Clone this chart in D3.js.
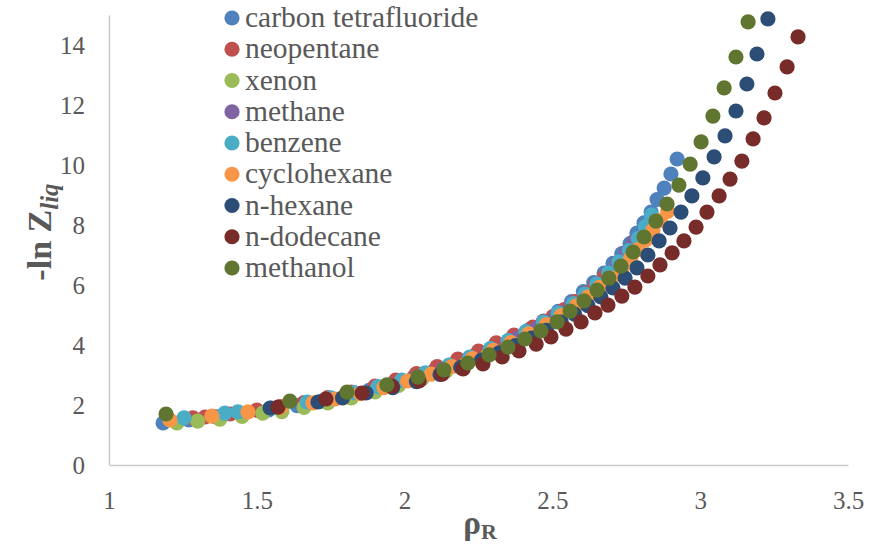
<!DOCTYPE html>
<html><head><meta charset="utf-8">
<script src="https://cdn.jsdelivr.net/npm/d3@7"></script>
<style>
body{margin:0;background:#fff}
text{font-family:"Liberation Serif","Times New Roman",serif}
</style>
</head><body>
<svg id="chart" width="870" height="550"></svg>
<script>
const seriesNames = ["carbon tetrafluoride","neopentane","xenon","methane","benzene","cyclohexane","n-hexane","n-dodecane","methanol"];
const seriesColors = ["#4F81BD","#C0504D","#9BBB59","#8064A2","#4BACC6","#F79646","#2C4D75","#772C2A","#5F7530"];
const xTicks = [1,1.5,2,2.5,3,3.5];
const yTicks = [0,2,4,6,8,10,12,14];

const carbonTetrafluoride = [[1.183,1.40],[1.27,1.50],[1.36,1.61],[1.45,1.72],[1.54,1.84],[1.636,1.98],[1.72,2.13],[1.80,2.30],[1.88,2.49],[1.96,2.70],[2.03,2.92],[2.10,3.14],[2.17,3.39],[2.24,3.66],[2.30,3.92],[2.36,4.20],[2.42,4.50],[2.47,4.80],[2.52,5.12],[2.565,5.45],[2.605,5.78],[2.64,6.08],[2.675,6.40],[2.705,6.72],[2.735,7.05],[2.763,7.38],[2.786,7.73],[2.81,8.07],[2.834,8.43],[2.854,8.85],[2.878,9.23],[2.901,9.70],[2.922,10.20]];
const neopentane = [[1.284,1.57],[1.325,1.60],[1.41,1.70],[1.50,1.83],[1.58,1.95],[1.66,2.08],[1.74,2.25],[1.82,2.43],[1.90,2.63],[1.97,2.83],[2.04,3.05],[2.11,3.28],[2.18,3.53],[2.25,3.80],[2.31,4.07],[2.37,4.33],[2.434,4.60],[2.47,4.78],[2.502,4.95],[2.54,5.18],[2.578,5.45],[2.614,5.73],[2.645,6.00],[2.675,6.27]];
const xenon = [[1.23,1.40],[1.30,1.46],[1.375,1.53],[1.45,1.62],[1.52,1.73],[1.585,1.78],[1.66,1.92],[1.74,2.07],[1.82,2.24],[1.90,2.44],[1.98,2.65],[2.06,2.88],[2.14,3.13],[2.21,3.38],[2.28,3.65],[2.35,3.95],[2.41,4.25],[2.47,4.57],[2.52,4.88],[2.57,5.22],[2.62,5.58]];
const methane = [[1.95,2.62],[2.04,2.90],[2.13,3.20],[2.22,3.52],[2.30,3.85],[2.38,4.22],[2.45,4.58],[2.51,4.95],[2.56,5.30],[2.61,5.68],[2.65,6.03],[2.69,6.40],[2.72,6.75],[2.75,7.10],[2.775,7.45]];
const benzene = [[1.254,1.57],[1.392,1.73],[1.436,1.77],[1.55,1.90],[1.67,2.10],[1.75,2.24],[1.83,2.41],[1.91,2.61],[1.99,2.83],[2.07,3.07],[2.15,3.33],[2.22,3.60],[2.29,3.88],[2.35,4.15],[2.41,4.45],[2.47,4.76],[2.52,5.06],[2.57,5.38],[2.61,5.70],[2.65,6.03],[2.69,6.40],[2.725,6.77],[2.76,7.15],[2.79,7.55],[2.815,7.95],[2.835,8.33]];
const cyclohexane = [[1.206,1.50],[1.348,1.63],[1.47,1.77],[1.58,1.92],[1.69,2.07],[1.765,2.20],[1.85,2.38],[1.93,2.58],[2.01,2.80],[2.09,3.03],[2.16,3.28],[2.23,3.55],[2.30,3.82],[2.36,4.08],[2.42,4.37],[2.48,4.68],[2.53,4.98],[2.58,5.30],[2.62,5.60],[2.66,5.92],[2.70,6.22],[2.735,6.55],[2.765,6.88],[2.79,7.18],[2.815,7.50],[2.84,7.83],[2.865,8.15],[2.89,8.45]];
const nHexane = [[1.545,1.90],[1.707,2.10],[1.79,2.24],[1.87,2.40],[1.96,2.58],[2.04,2.78],[2.12,3.02],[2.19,3.25],[2.26,3.50],[2.32,3.74],[2.375,3.98],[2.43,4.23],[2.48,4.49],[2.53,4.76],[2.575,5.03],[2.62,5.31],[2.664,5.60],[2.705,5.90],[2.746,6.23],[2.786,6.57],[2.823,7.00],[2.861,7.47],[2.898,7.90],[2.935,8.43],[2.972,8.97],[3.009,9.57],[3.047,10.27],[3.084,10.97],[3.121,11.80],[3.158,12.70],[3.192,13.70],[3.229,14.87]];
const nDodecane = [[1.572,1.93],[1.734,2.20],[1.856,2.40],[1.957,2.63],[2.049,2.80],[2.127,3.03],[2.198,3.20],[2.265,3.37],[2.330,3.60],[2.387,3.80],[2.445,4.03],[2.495,4.27],[2.546,4.53],[2.597,4.77],[2.644,5.07],[2.688,5.33],[2.735,5.63],[2.779,5.93],[2.823,6.30],[2.864,6.67],[2.905,7.07],[2.945,7.47],[2.986,7.93],[3.023,8.43],[3.064,8.97],[3.101,9.53],[3.141,10.13],[3.179,10.87],[3.216,11.57],[3.253,12.40],[3.294,13.27],[3.331,14.27]];
const methanol = [[1.193,1.70],[1.612,2.13],[1.805,2.43],[1.940,2.67],[2.045,2.93],[2.133,3.17],[2.214,3.40],[2.286,3.67],[2.350,3.93],[2.407,4.20],[2.461,4.47],[2.516,4.77],[2.560,5.13],[2.607,5.47],[2.651,5.83],[2.691,6.23],[2.732,6.63],[2.773,7.10],[2.810,7.60],[2.850,8.13],[2.888,8.70],[2.928,9.33],[2.966,10.03],[3.003,10.77],[3.043,11.63],[3.081,12.57],[3.121,13.60],[3.162,14.77]];

const seriesData = [carbonTetrafluoride,neopentane,xenon,methane,benzene,cyclohexane,nHexane,nDodecane,methanol];

const serif = "'Liberation Serif','Times New Roman',serif";
const svg = d3.select("#chart");
const x = d3.scaleLinear().domain([1,3.5]).range([109,848]);
const y = d3.scaleLinear().domain([0,15]).range([465,15]);
const axisColor = "#C9C9C9", textColor = "#595959";

// axes
const gx = svg.append("g").attr("transform","translate(0,465)")
  .call(d3.axisBottom(x).tickValues(xTicks).tickFormat(d3.format("")).tickSize(0).tickPadding(26));
const gy = svg.append("g").attr("transform","translate(109,0)")
  .call(d3.axisLeft(y).tickValues(yTicks).tickSize(0).tickPadding(24));
[gx,gy].forEach(g=>{
  g.select(".domain").attr("stroke",axisColor).attr("stroke-width",1.5);
  g.selectAll("text").attr("fill",textColor).style("font-size","25px").style("font-family",serif);
});

// points
seriesData.forEach((data,i)=>{
  svg.append("g").selectAll("circle").data(data).join("circle")
    .attr("cx",d=>x(d[0])).attr("cy",d=>y(d[1])).attr("r",7.6)
    .attr("fill",seriesColors[i]);
});

// legend
const lg = svg.append("g");
seriesNames.forEach((n,i)=>{
  const cy = 18 + i*31.25;
  lg.append("circle").attr("cx",232).attr("cy",cy).attr("r",7.6).attr("fill",seriesColors[i]);
  lg.append("text").attr("x",245).attr("y",cy+9).attr("fill",textColor)
    .style("font-family",serif).style("font-size","29.5px").text(n);
});

// axis titles
const xt = svg.append("text").attr("x",480).attr("y",534).attr("text-anchor","middle")
  .attr("fill",textColor).style("font-family",serif).style("font-size","33px").style("font-weight","bold");
xt.append("tspan").text("ρ");
xt.append("tspan").attr("dy",5).style("font-size","22px").text("R");

const yt = svg.append("text").attr("transform","translate(51,232) rotate(-90)").attr("text-anchor","middle")
  .attr("fill",textColor).style("font-family",serif).style("font-size","34px").style("font-weight","bold");
yt.append("tspan").text("-ln Z");
yt.append("tspan").attr("dy",7).style("font-size","25px").style("font-style","italic").text("liq");
</script>
</body></html>
